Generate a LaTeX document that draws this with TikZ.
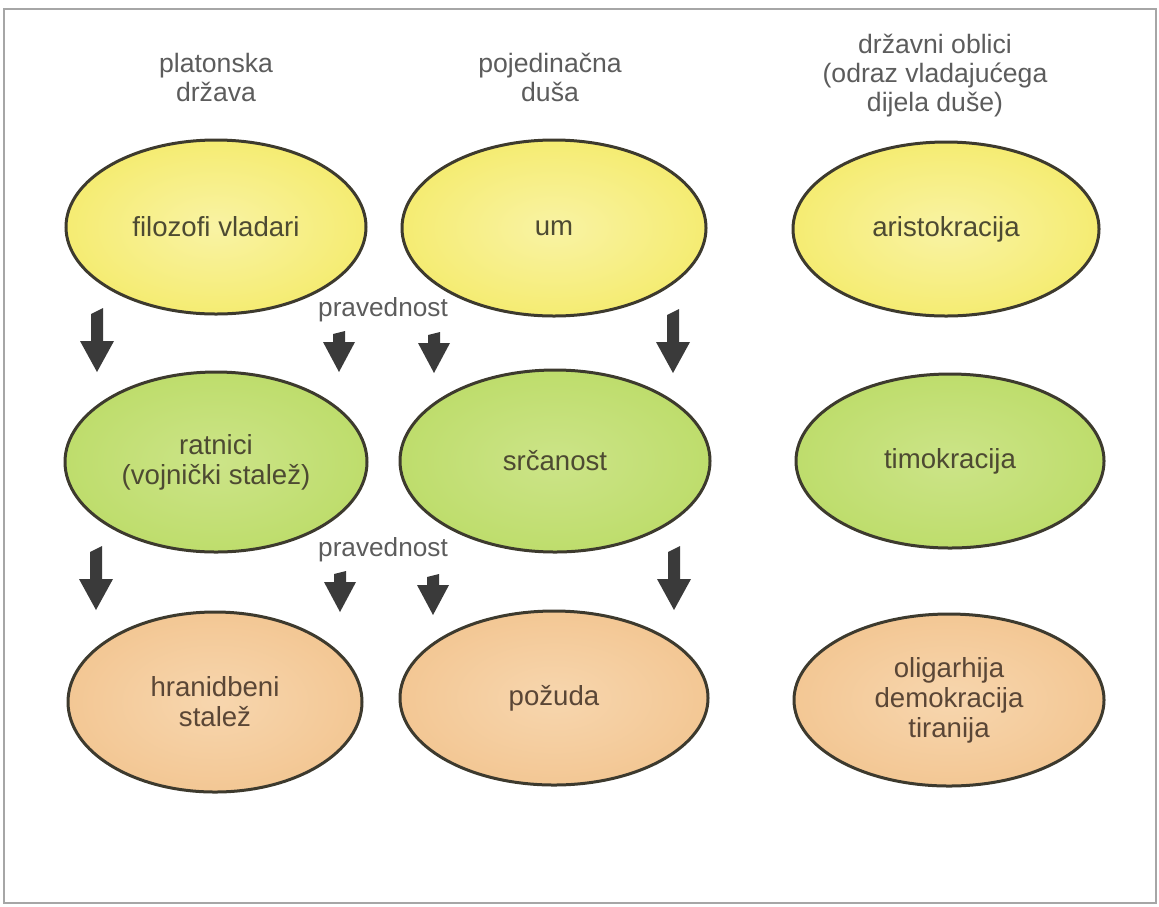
\documentclass[tikz,border=0pt]{standalone}
\usepackage{fontspec}
\setmainfont{Liberation Sans}
\usetikzlibrary{shapes.geometric}
\definecolor{ylw}{HTML}{F5EC72}
\definecolor{ylwin}{HTML}{F9F3A4}
\definecolor{grn}{HTML}{BEDD6C}
\definecolor{grnin}{HTML}{CCE488}
\definecolor{org}{HTML}{F3C794}
\definecolor{orgin}{HTML}{F7D6AE}
\definecolor{edge}{HTML}{3D3A2E}
\definecolor{txt}{HTML}{4D4A32}
\definecolor{otxt}{HTML}{5A4636}
\definecolor{hdr}{HTML}{5C5C5C}
\definecolor{arr}{HTML}{3A3A3A}
\tikzset{
  oval/.style={ellipse, draw=edge, line width=1.5pt, inner sep=0pt,
    font=\fontsize{13.8}{15}\selectfont, align=center, text=txt},
  yoval/.style={oval, inner color=ylwin, outer color=ylw},
  goval/.style={oval, inner color=grnin, outer color=grn},
  ooval/.style={oval, inner color=orgin, outer color=org, text=otxt},
  hdrtext/.style={font=\fontsize{13.3}{14.5}\selectfont, align=center, text=hdr},
  lbl/.style={font=\fontsize{13.1}{14}\selectfont, text=hdr},
  pics/longarrow/.style={code={
    \fill[arr] (0,0) -- (-17,-31) -- (-6,-31) -- (-6,-58) -- (6,-64) -- (6,-31) -- (17,-31) -- cycle;}},
  pics/shortarrow/.style={code={
    \fill[arr] (0,0) -- (-16,-30) -- (-6,-30) -- (-6,-38) -- (6,-41) -- (6,-30) -- (16,-30) -- cycle;}},
}
\begin{document}
\begin{tikzpicture}[x=0.5pt,y=-0.5pt]
\useasboundingbox (0,0) rectangle (1159,906);
\draw[gray!70, line width=0.8pt] (4,9) rectangle (1156,903);

% headers
\node[hdrtext] (h1) at (216,77) {platonska\\država};
\node[hdrtext] (h2) at (550,77) {pojedinačna\\duša};
\node[hdrtext] (h3) at (935,76) {državni oblici\\(odraz vladajućega\\dijela duše)};

% row 1
\node[yoval, minimum width=150pt, minimum height=87pt] (fil) at (216,227) {filozofi vladari};
\node[yoval, minimum width=152pt, minimum height=88pt] (um) at (554,228) {um};
\node[yoval, minimum width=153pt, minimum height=87pt] (ari) at (946,229) {aristokracija};

% row 2
\node[goval, minimum width=151pt, minimum height=90pt] (rat) at (216,462) {ratnici\\(vojnički stalež)};
\node[goval, minimum width=155pt, minimum height=91pt] (src) at (555,461) {srčanost};
\node[goval, minimum width=154pt, minimum height=87pt] (tim) at (950,461) {timokracija};

% row 3
\node[ooval, minimum width=147pt, minimum height=90pt] (hra) at (215,702) {hranidbeni\\stalež};
\node[ooval, minimum width=154pt, minimum height=87pt] (poz) at (554,698) {požuda};
\node[ooval, minimum width=155pt, minimum height=86pt] (oli) at (949,700) {oligarhija\\demokracija\\tiranija};

% labels
\node[lbl] (p1) at (383,310) {pravednost};
\node[lbl] (p2) at (383,550) {pravednost};

% arrows row 1 -> row 2
\pic at (97,372) {longarrow};
\pic at (339,372) {shortarrow};
\pic at (434,373) {shortarrow};
\pic at (673,373) {longarrow};

% arrows row 2 -> row 3
\pic at (96,610) {longarrow};
\pic at (340,612) {shortarrow};
\pic at (433,615) {shortarrow};
\pic at (674,610) {longarrow};
\end{tikzpicture}
\end{document}
